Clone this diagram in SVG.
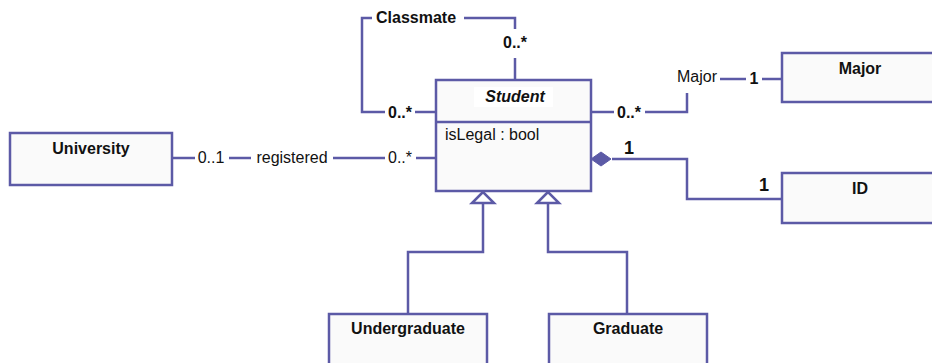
<svg xmlns="http://www.w3.org/2000/svg" width="932" height="363" viewBox="0 0 932 363">
<style>
.box{fill:#fafafa;stroke:#5c5aa6;stroke-width:2.5}
.ln{fill:none;stroke:#5c5aa6;stroke-width:2.5}
.tri{fill:#ffffff;stroke:#5c5aa6;stroke-width:2.5}
.dia{fill:#5c5aa6;stroke:#5c5aa6;stroke-width:1}
.t{font-family:"Liberation Sans",Arial,sans-serif;font-size:16px;fill:#111}
.b{font-weight:bold}
.c{text-anchor:middle}
.big{font-size:18px}
</style>
<rect width="932" height="363" fill="#ffffff"/>
<g id="connectors">
<polyline class="ln" points="515,80 515,58"/>
<polyline class="ln" points="515,29 515,18 464,18"/>
<polyline class="ln" points="372,18 362,18 362,112 385,112"/>
<line class="ln" x1="415" y1="112" x2="436" y2="112"/>
<line class="ln" x1="172" y1="158" x2="195" y2="158"/>
<line class="ln" x1="229" y1="158" x2="251" y2="158"/>
<line class="ln" x1="333" y1="158" x2="385" y2="158"/>
<line class="ln" x1="416" y1="158" x2="436" y2="158"/>
<line class="ln" x1="591" y1="112" x2="614" y2="112"/>
<polyline class="ln" points="645,112 687,112 687,93"/>
<line class="ln" x1="720" y1="79" x2="746" y2="79"/>
<line class="ln" x1="762" y1="79" x2="782" y2="79"/>
<polyline class="ln" points="612,159 687,159 687,199 782,199"/>
<polygon class="dia" points="591,159 601,152 611,159 601,166"/>
<polyline class="ln" points="483,203 483,252 408,252 408,314"/>
<polyline class="ln" points="548,203 548,252 627,252 627,314"/>
<polygon class="tri" points="483,192 472,203 494,203"/>
<polygon class="tri" points="548,192 537,203 559,203"/>
<text class="t b" x="376" y="23">Classmate</text>
<text class="t b c" x="515" y="48">0..*</text>
<text class="t b c" x="400" y="118">0..*</text>
<text class="t c" x="211" y="163">0..1</text>
<text class="t c" x="292" y="163">registered</text>
<text class="t c" x="400" y="163">0..*</text>
<text class="t b c" x="629" y="118">0..*</text>
<text class="t c" x="697" y="82">Major</text>
<text class="t b c" x="754" y="84">1</text>
<text class="t b c big" x="629" y="154">1</text>
<text class="t b c big" x="764" y="191">1</text>
</g>
<g id="student">
<rect class="box" x="436" y="80" width="155" height="111"/>
<line class="ln" x1="436" y1="122" x2="591" y2="122"/>
<rect x="474" y="87" width="79" height="20" fill="#ffffff"/>
<text class="t b c" x="515" y="102" font-style="italic">Student</text>
<text class="t" x="445" y="140">isLegal : bool</text>
</g>
<g id="university">
<rect class="box" x="10" y="133" width="162" height="52"/>
<text class="t b c" x="91" y="154">University</text>
</g>
<g id="major">
<rect class="box" x="782" y="53" width="160" height="49"/>
<text class="t b c" x="860" y="74">Major</text>
</g>
<g id="id">
<rect class="box" x="782" y="173" width="160" height="50"/>
<text class="t b c" x="860" y="194">ID</text>
</g>
<g id="undergraduate">
<rect class="box" x="329" y="314" width="158" height="60"/>
<text class="t b c" x="408" y="334">Undergraduate</text>
</g>
<g id="graduate">
<rect class="box" x="549" y="314" width="158" height="60"/>
<text class="t b c" x="628" y="334">Graduate</text>
</g>
</svg>
